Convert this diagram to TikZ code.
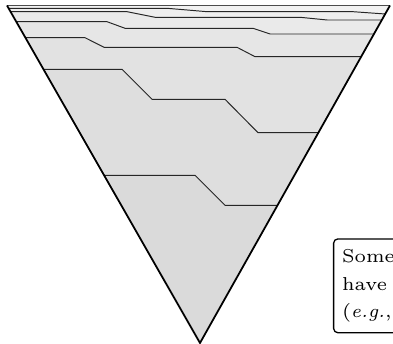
\documentclass[tikz,border=0pt]{standalone}
\usetikzlibrary{calc}
\begin{document}
\begin{tikzpicture}[x=0.3106pt, y=-0.3106pt,
  rim/.style={line width=0.55pt, line join=miter},
  topline/.style={line width=0.4pt, black!70},
  layer/.style={line width=0.3pt, black!85},
  base/.style={fill=black!5},
  shade/.style={fill=black, fill opacity=0.014},
  note/.style={draw, line width=0.4pt, rounded corners=1.3pt, fill=white,
    anchor=north west, text width=70pt, align=left,
    inner xsep=2.6pt, inner ysep=3.2pt,
    font=\fontsize{5.8}{8.6}\selectfont}]
\clip (0,0) rectangle (393,344);

% corners of the inverted triangle
\coordinate (L) at (7,5.5);
\coordinate (R) at (390,5.5);
\coordinate (P) at (200,343);

% end points of the layer boundaries on the two sides
\coordinate (b1) at (8.60,8.3);   \coordinate (b2) at (385.22,14);
\coordinate (c1) at (10.55,11.7); \coordinate (c2) at (381.84,20);
\coordinate (d1) at (16.26,21.7); \coordinate (d2) at (373.96,34);
\coordinate (e1) at (25.41,37.7); \coordinate (e2) at (361.18,56.7);
\coordinate (f1) at (43.48,69.3); \coordinate (f2) at (318.39,132.7);
\coordinate (g1) at (104.10,175.3); \coordinate (g2) at (277.52,205.3);

% layer boundaries
\def\laybB{(b1) -- (167,8.3) -- (207,11.7) -- (353,11.7) -- (b2)}
\def\laybC{(c1) -- (127,11.7) -- (155,17.3) -- (300,17.3) -- (327,20) -- (c2)}
\def\laybD{(d1) -- (107,21.7) -- (125,28.3) -- (253,28.3) -- (270,34) -- (d2)}
\def\laybE{(e1) -- (85,37.7) -- (104,47.3) -- (237,47.3) -- (255,56.7) -- (e2)}
\def\laybF{(f1) -- (122,69.3) -- (152,99.3) -- (225,99.3) -- (258,132.7) -- (f2)}
\def\laybG{(g1) -- (195,175.3) -- (225,205.3) -- (g2)}

% fills: each deeper layer a little darker
\fill[base] (L) -- (R) -- (P) -- cycle;
\fill[shade] \laybB -- (P) -- cycle;
\fill[shade] \laybC -- (P) -- cycle;
\fill[shade] \laybD -- (P) -- cycle;
\fill[shade] \laybE -- (P) -- cycle;
\fill[shade] \laybF -- (P) -- cycle;
\fill[shade] \laybG -- (P) -- cycle;

\draw[layer] \laybB;
\draw[layer] \laybC;
\draw[layer] \laybD;
\draw[layer] \laybE;
\draw[layer] \laybF;
\draw[layer] \laybG;

% outline
\draw[topline] (L) -- (R);
\draw[rim] (L) -- (P) -- (R);

% annotation
\node[note] (txt) at (333,238.3) {Some\\have\\(\textit{e.g.},};
\end{tikzpicture}
\end{document}
